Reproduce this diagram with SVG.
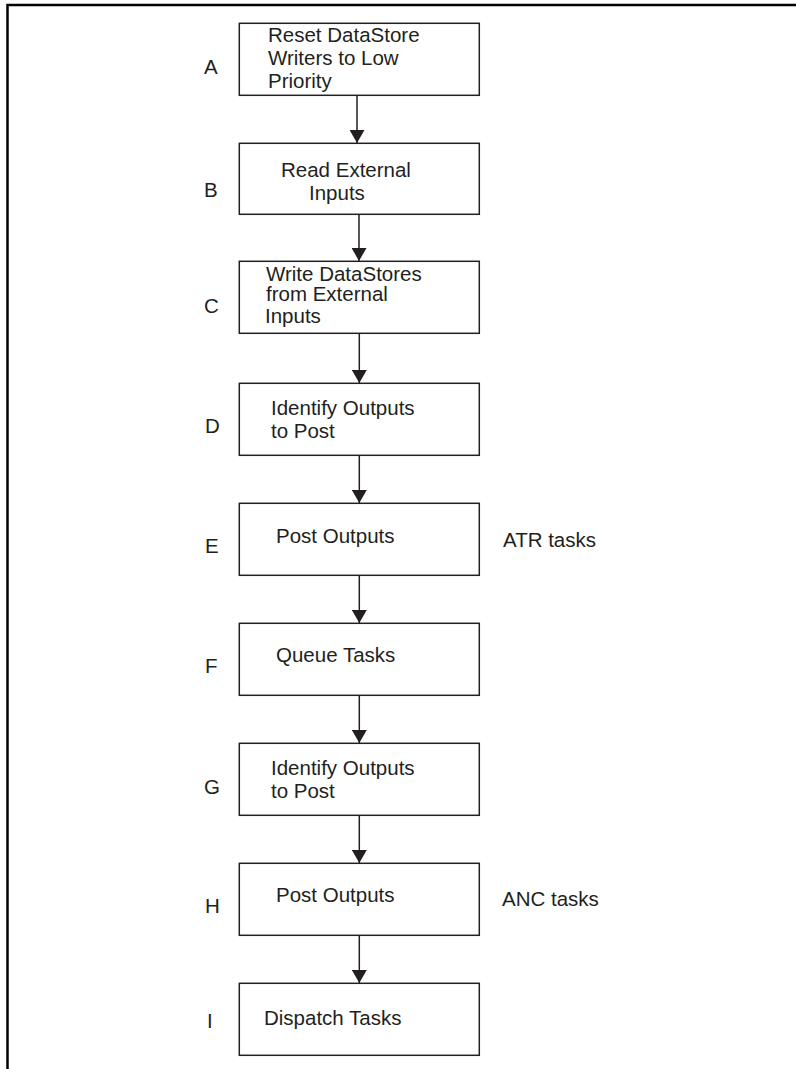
<svg xmlns="http://www.w3.org/2000/svg" width="796" height="1069" viewBox="0 0 796 1069">
<style>
.box{fill:#fff;stroke:#231f20;stroke-width:1.5}
.t{font-family:"Liberation Sans",Arial,sans-serif;font-size:20.5px;fill:#231f20}
.c{stroke:#231f20;stroke-width:1.5;fill:none}
.frame{stroke:#000;stroke-width:2.5;fill:none}
</style>
<defs>
<marker id="ah" markerUnits="userSpaceOnUse" markerWidth="13" markerHeight="15" refX="13" refY="7.5" orient="auto" viewBox="0 0 13 15">
<path d="M0,0 L13,7.5 L0,15 Z" fill="#231f20"/>
</marker>
</defs>
<rect width="796" height="1069" fill="#fff"/>
<path class="frame" d="M796,5 H7.5 V1069"/>
<g id="connectors">
<line class="c" x1="357" y1="95" x2="357" y2="143" marker-end="url(#ah)"/>
<line class="c" x1="359" y1="215" x2="359" y2="261" marker-end="url(#ah)"/>
<line class="c" x1="359.3" y1="333" x2="359.3" y2="383" marker-end="url(#ah)"/>
<line class="c" x1="359.3" y1="455" x2="359.3" y2="503" marker-end="url(#ah)"/>
<line class="c" x1="359.3" y1="575" x2="359.3" y2="623" marker-end="url(#ah)"/>
<line class="c" x1="359.3" y1="695" x2="359.3" y2="743" marker-end="url(#ah)"/>
<line class="c" x1="359.3" y1="815" x2="359.3" y2="863" marker-end="url(#ah)"/>
<line class="c" x1="359.3" y1="935" x2="359.3" y2="983" marker-end="url(#ah)"/>
</g>
<g id="nodeA">
<rect class="box" x="239.3" y="23.3" width="240" height="72"/>
<text class="t" x="204" y="74">A</text>
<text class="t" x="268" y="42">Reset DataStore</text>
<text class="t" x="268" y="65">Writers to Low</text>
<text class="t" x="268" y="87.5">Priority</text>
</g>
<g id="nodeB">
<rect class="box" x="239.3" y="143.3" width="240" height="71"/>
<text class="t" x="204" y="197">B</text>
<text class="t" x="281" y="177">Read External</text>
<text class="t" x="309" y="200">Inputs</text>
</g>
<g id="nodeC">
<rect class="box" x="239.3" y="261.3" width="240" height="72"/>
<text class="t" x="204" y="313">C</text>
<text class="t" x="266" y="281">Write DataStores</text>
<text class="t" x="266" y="301">from External</text>
<text class="t" x="265" y="323">Inputs</text>
</g>
<g id="nodeD">
<rect class="box" x="239.3" y="383.3" width="240" height="72"/>
<text class="t" x="205" y="433">D</text>
<text class="t" x="271" y="415">Identify Outputs</text>
<text class="t" x="271" y="438">to Post</text>
</g>
<g id="nodeE">
<rect class="box" x="239.3" y="503.3" width="240" height="72"/>
<text class="t" x="205" y="553">E</text>
<text class="t" x="276" y="543">Post Outputs</text>
<text class="t" x="503" y="547">ATR tasks</text>
</g>
<g id="nodeF">
<rect class="box" x="239.3" y="623.3" width="240" height="72"/>
<text class="t" x="205" y="673">F</text>
<text class="t" x="276" y="662">Queue Tasks</text>
</g>
<g id="nodeG">
<rect class="box" x="239.3" y="743.3" width="240" height="72"/>
<text class="t" x="204" y="794">G</text>
<text class="t" x="271" y="775">Identify Outputs</text>
<text class="t" x="271" y="798">to Post</text>
</g>
<g id="nodeH">
<rect class="box" x="239.3" y="863.3" width="240" height="72"/>
<text class="t" x="205" y="913">H</text>
<text class="t" x="276" y="902">Post Outputs</text>
<text class="t" x="502" y="906">ANC tasks</text>
</g>
<g id="nodeI">
<rect class="box" x="239.3" y="983.3" width="240" height="72"/>
<text class="t" x="207" y="1028">I</text>
<text class="t" x="264" y="1025">Dispatch Tasks</text>
</g>
</svg>
